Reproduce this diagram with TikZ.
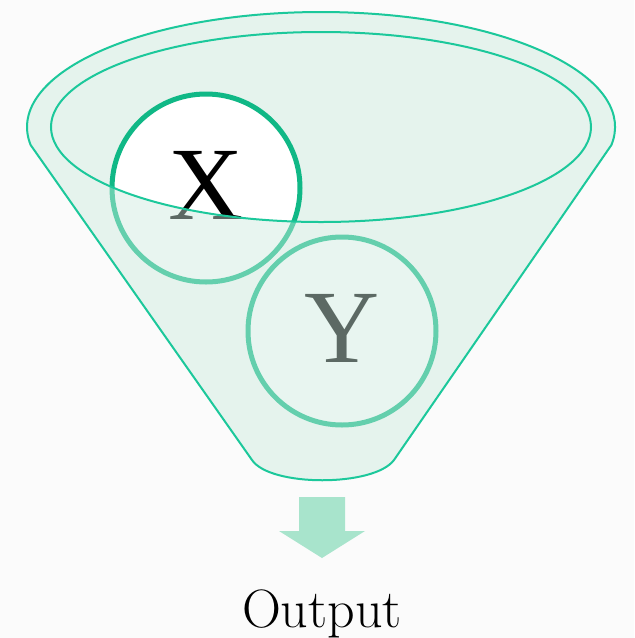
\documentclass[tikz,border=0pt]{standalone}
\usepackage{fontspec}
\usepackage{tikz}
\newfontfamily\ballfont{Liberation Serif}
\definecolor{funnelline}{RGB}{28,200,155}
\definecolor{ballline}{RGB}{16,184,134}
\definecolor{funnelfill}{RGB}{204,235,222}
\definecolor{arrowfill}{RGB}{168,228,204}
\definecolor{paper}{RGB}{251,251,251}

\begin{document}
\begin{tikzpicture}[
    x=0.5pt, y=-0.5pt,
    ball/.style={
        circle, draw=ballline, fill=white,
        line width=2.5pt, minimum size=94pt, inner sep=0pt,
        font=\ballfont\fontsize{52}{52}\selectfont
    },
    rim/.style={draw=funnelline, line width=1pt},
    glass/.style={fill=funnelfill, fill opacity=0.45},
    outlabel/.style={anchor=base, font=\fontsize{27}{27}\selectfont}
]

\fill[paper] (0,0) rectangle (634,638);
\useasboundingbox (0,0) rectangle (634,638);

% back of the funnel
\fill[glass] (321,127) ellipse [x radius=270, y radius=95];

\node[ball] (x) at (206,188) {\raisebox{3pt}{X}};
\node[ball] (y) at (342,331) {\raisebox{3pt}{Y}};

% front of the funnel
\path[glass, rim, even odd rule]
    (611.4,145) arc [start angle=9, end angle=-189, x radius=294, y radius=115]
    -- (252,460) .. controls (270,487) and (374,487) .. (394,460) -- cycle
    (321,127) ellipse [x radius=270, y radius=95];

\fill[arrowfill] (299,497) -- (345,497) -- (345,531) -- (365,531)
    -- (322,558) -- (279,531) -- (299,531) -- cycle;

\node[outlabel] (output) at (322,627) {Output};

\end{tikzpicture}
\end{document}
